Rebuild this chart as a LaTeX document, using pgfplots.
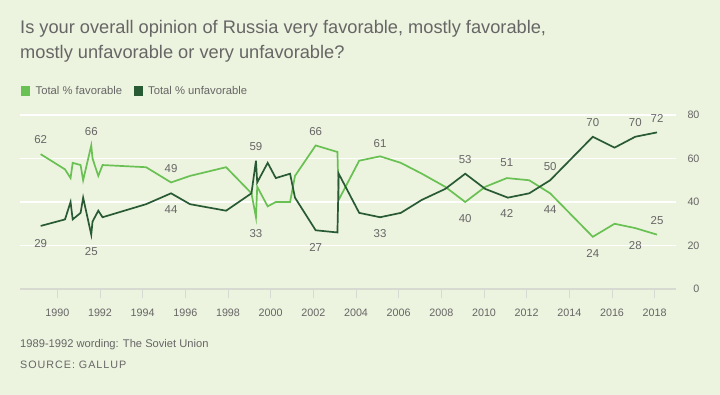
\documentclass[border=0pt]{standalone}
\usepackage{fontspec}
\setmainfont{Liberation Sans}
\newfontfamily\numfont{Liberation Sans}
\newfontfamily\srcfont{Liberation Sans}[LetterSpace=9]
\usepackage{pgfplots}
\pgfplotsset{compat=1.18}
\definecolor{bg}{RGB}{236,243,222}
\definecolor{fav}{RGB}{104,193,82}
\definecolor{unfav}{RGB}{40,90,52}
\definecolor{txt}{RGB}{102,102,102}
\definecolor{axisgray}{RGB}{215,218,208}
\tikzset{lbl/.style={font=\numfont\fontsize{11.5}{12}\selectfont, text=txt, inner sep=0, anchor=center}}
\begin{document}
\begin{tikzpicture}
\fill[bg] (0bp,0bp) rectangle (720bp,-395bp);
\node[anchor=base west, inner sep=0, text=txt, font=\fontsize{18.3}{21}\selectfont] at (20bp,-33.5bp) {Is your overall opinion of Russia very favorable, mostly favorable,};
\node[anchor=base west, inner sep=0, text=txt, font=\fontsize{18.3}{21}\selectfont] at (20bp,-58.5bp) {mostly unfavorable or very unfavorable?};
\fill[fav] (20.5bp,-86bp) rectangle (29.5bp,-95.5bp);
\node[anchor=base west, inner sep=0, text=txt, font=\fontsize{11.3}{12}\selectfont] at (35.5bp,-94.5bp) {Total \% favorable};
\fill[unfav] (133.5bp,-86bp) rectangle (142.5bp,-95.5bp);
\node[anchor=base west, inner sep=0, text=txt, font=\fontsize{11.3}{12}\selectfont] at (148bp,-94.5bp) {Total \% unfavorable};
\node[anchor=base west, inner sep=0, text=txt, font=\fontsize{11.2}{12}\selectfont] at (20bp,-347.7bp) {1989-1992 wording: The Soviet Union};
\node[anchor=base west, inner sep=0, text=txt, font=\srcfont\fontsize{10.8}{12}\selectfont] at (20bp,-368.7bp) {SOURCE: GALLUP};
\begin{axis}[
  at={(20bp,-289bp)}, anchor=south west, scale only axis,
  width=656bp, height=174bp,
  xmin=1988.25, xmax=2019, ymin=0, ymax=80,
  clip=false,
  axis line style={draw=none},
  xtick={1990,1992,...,2018}, xtick pos=left,
  xticklabel style={/pgf/number format/1000 sep={}, yshift=-7bp},
  ytick={20,40,60,80}, ytick pos=right, yticklabel pos=right,
  extra y ticks={0},
  extra y tick style={grid style={axisgray, line width=1.6bp}},
  ytick style={draw=none},
  yticklabel style={anchor=east, xshift=18bp},
  tick align=outside, major tick length=9bp,
  xtick style={draw=axisgray, line width=0.8bp},
  ymajorgrids, grid style={white, line width=1.6bp},
  ticklabel style={font=\numfont\fontsize{10.8}{12}\selectfont, text=txt},
  /pgf/number format/assume math mode=true,
]
\addplot[fav, line width=1.7bp, mark=none] coordinates {
(1989.22,62) (1990.36,55) (1990.62,51) (1990.72,58) (1991.09,57) (1991.21,50)
(1991.59,66) (1991.65,60) (1991.92,52) (1992.12,57) (1994.16,56) (1995.33,49)
(1996.22,52) (1997.91,56) (1999.10,44) (1999.31,33) (1999.37,47) (1999.86,38)
(2000.24,40) (2000.91,40) (2001.14,52) (2002.11,66) (2003.13,63) (2003.19,41)
(2004.15,59) (2005.13,61) (2006.10,58) (2007.09,53) (2008.18,47) (2009.12,40)
(2010.06,47) (2011.07,51) (2012.12,50) (2013.10,44) (2015.10,24) (2016.12,30)
(2017.09,28) (2018.11,25)};
\addplot[unfav, line width=1.7bp, mark=none] coordinates {
(1989.22,29) (1990.36,32) (1990.62,40) (1990.72,32) (1991.09,35) (1991.21,42)
(1991.59,25) (1991.65,31) (1991.92,36) (1992.12,33) (1994.16,39) (1995.33,44)
(1996.22,39) (1997.91,36) (1999.10,44) (1999.31,59) (1999.37,49) (1999.86,58)
(2000.24,51) (2000.91,53) (2001.14,42) (2002.11,27) (2003.13,26) (2003.19,53)
(2004.15,35) (2005.13,33) (2006.10,35) (2007.09,41) (2008.18,46) (2009.12,53)
(2010.06,46) (2011.12,42) (2012.12,44) (2013.10,50) (2015.10,70) (2016.12,65)
(2017.09,70) (2018.11,72)};
\node[lbl] at (axis cs:1989.22,68.5) {62};
\node[lbl] at (axis cs:1989.22,21.1) {29};
\node[lbl] at (axis cs:1991.59,72.2) {66};
\node[lbl] at (axis cs:1991.59,17.0) {25};
\node[lbl] at (axis cs:1995.33,55.2) {49};
\node[lbl] at (axis cs:1995.33,36.3) {44};
\node[lbl] at (axis cs:1999.31,65.3) {59};
\node[lbl] at (axis cs:1999.31,25.3) {33};
\node[lbl] at (axis cs:2002.11,72.2) {66};
\node[lbl] at (axis cs:2002.11,19.3) {27};
\node[lbl] at (axis cs:2005.13,67.1) {61};
\node[lbl] at (axis cs:2005.13,25.3) {33};
\node[lbl] at (axis cs:2009.12,59.3) {53};
\node[lbl] at (axis cs:2009.12,32.2) {40};
\node[lbl] at (axis cs:2011.07,57.9) {51};
\node[lbl] at (axis cs:2011.07,34.5) {42};
\node[lbl] at (axis cs:2013.10,56.1) {50};
\node[lbl] at (axis cs:2013.10,36.3) {44};
\node[lbl] at (axis cs:2015.10,76.3) {70};
\node[lbl] at (axis cs:2015.10,16.1) {24};
\node[lbl] at (axis cs:2017.09,76.3) {70};
\node[lbl] at (axis cs:2017.09,20.2) {28};
\node[lbl] at (axis cs:2018.11,78.2) {72};
\node[lbl] at (axis cs:2018.11,31.3) {25};
\end{axis}
\end{tikzpicture}
\end{document}
